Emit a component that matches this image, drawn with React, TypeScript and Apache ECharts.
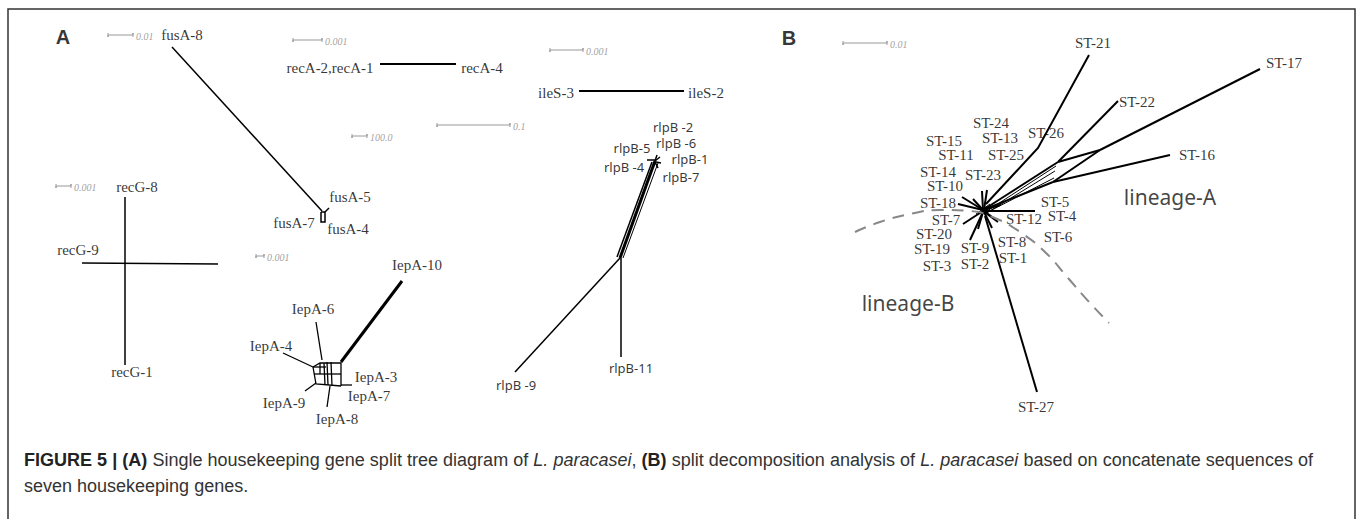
import React, { useEffect, useRef } from "react";
import * as echarts from "echarts";

type Pt = [number, number];
type Lbl = [string, number, number];

// ---------- Panel A: single-gene split trees (node positions) ----------
const fusAEdges: Pt[][] = [
  [[172, 47], [322, 211]],
  [[321, 212], [325, 212], [325, 222], [321, 222], [321, 212]],
  [[325, 212], [329, 208]],
];
const recAEdges: Pt[][] = [[[380, 64], [456, 64]]];
const ileSEdges: Pt[][] = [[[579, 91], [684, 91]]];
const recGEdges: Pt[][] = [
  [[125, 197], [125, 365]],
  [[82, 263], [218, 264]],
];
const lepAThick: Pt[][] = [[[402, 281], [341, 362]]];
const lepAEdges: Pt[][] = [
  [[316, 322], [322, 360]],
  [[283, 353], [313, 367]],
  [[341, 385], [352, 385]],
  [[305, 391], [316, 383]],
  [[327, 407], [330, 386]],
  [[313, 367], [320, 363], [341, 363], [341, 386]],
  [[313, 367], [316, 384], [341, 386]],
  [[313, 367], [326, 367]],
  [[314, 374], [341, 374]],
  [[320, 363], [320, 374]],
  [[324, 363], [325, 385]],
  [[327, 362], [328, 385]],
  [[331, 362], [332, 386]],
];
const rlpBThick: Pt[][] = [[[620, 258], [655, 161]]];
const rlpBEdges: Pt[][] = [
  [[617, 257], [652, 162]],
  [[620, 258], [515, 372]],
  [[621, 258], [621, 357]],
  [[647, 160], [656, 160]],
  [[655, 161], [657, 155]],
  [[655, 161], [660, 157]],
  [[656, 162], [661, 163]],
  [[655, 162], [658, 168]],
];
const rlpBThin: Pt[][] = [[[623, 258], [658, 163]]];

// ---------- Panel B: split decomposition network ----------
const stEdges: Pt[][] = [
  [[986, 204], [1038, 148], [1089, 55]],
  [[983, 210], [1058, 162]],
  [[983, 210], [1053, 182]],
  [[1058, 162], [1100, 150]],
  [[1053, 182], [1100, 150]],
  [[1100, 150], [1260, 69]],
  [[1058, 162], [1118, 101]],
  [[1053, 182], [1170, 155]],
  [[985, 216], [1037, 392]],
  [[985, 211], [1035, 211]],
  [[958, 204], [983, 210]],
  [[962, 197], [983, 210]],
  [[973, 199], [983, 210]],
  [[982, 191], [983, 210]],
  [[987, 190], [984, 210]],
  [[963, 224], [983, 211]],
  [[970, 240], [983, 212]],
  [[978, 229], [983, 212]],
  [[992, 228], [984, 212]],
  [[998, 222], [983, 211]],
  [[1000, 205], [984, 210]],
];
const stThin: Pt[][] = [
  [[984, 213], [1056, 166]],
  [[985, 214], [1055, 171]],
  [[984, 214], [1054, 178]],
  [[975, 205], [992, 216]],
  [[976, 214], [990, 204]],
];
const lineageArc: Pt[] = [
  [855, 232], [880, 222], [910, 214], [940, 210], [970, 211], [995, 218],
  [1020, 232], [1045, 252], [1068, 278], [1090, 303], [1109, 323],
];

// ---------- Scale bars: [x1, x2, y, label] ----------
const scaleBars: [number, number, number, string][] = [
  [108, 133, 35, "0.01"],
  [293, 322, 40, "0.001"],
  [352, 367, 136, "100.0"],
  [437, 510, 125, "0.1"],
  [550, 583, 50, "0.001"],
  [56, 71, 186, "0.001"],
  [256, 264, 256, "0.001"],
  [843, 887, 43, "0.01"],
];

// ---------- Labels: [text, centre x, centre y] ----------
const serifLabelsA: Lbl[] = [
  ["fusA-8", 182, 35], ["recA-2,recA-1", 330, 68], ["recA-4", 482, 68],
  ["ileS-3", 556, 93], ["ileS-2", 706, 93], ["fusA-5", 350, 197],
  ["fusA-7", 294, 223], ["fusA-4", 348, 229], ["recG-8", 137, 187],
  ["recG-9", 78, 250], ["recG-1", 132, 372], ["IepA-10", 417, 265],
  ["IepA-6", 313, 309], ["IepA-4", 271, 346], ["IepA-3", 376, 377],
  ["IepA-7", 369, 396], ["IepA-9", 284, 403], ["IepA-8", 337, 419],
];
const rlpBLabels: Lbl[] = [
  ["rlpB -2", 673, 127], ["rlpB -6", 676, 143], ["rlpB-5", 632, 148],
  ["rlpB-1", 690, 159], ["rlpB -4", 624, 167], ["rlpB-7", 681, 177],
  ["rlpB -9", 516, 385], ["rlpB-11", 631, 368],
];
const stLabels: Lbl[] = [
  ["ST-21", 1093, 43], ["ST-17", 1284, 63], ["ST-22", 1137, 102],
  ["ST-16", 1197, 155], ["ST-26", 1046, 133], ["ST-24", 991, 123],
  ["ST-13", 1000, 138], ["ST-15", 944, 141], ["ST-11", 956, 155],
  ["ST-25", 1006, 155], ["ST-14", 938, 172], ["ST-23", 983, 175],
  ["ST-10", 945, 186], ["ST-18", 938, 203], ["ST-7", 946, 220],
  ["ST-20", 934, 234], ["ST-19", 932, 249], ["ST-3", 937, 266],
  ["ST-9", 975, 248], ["ST-2", 975, 264], ["ST-8", 1012, 242],
  ["ST-1", 1013, 258], ["ST-12", 1024, 219], ["ST-5", 1055, 202],
  ["ST-4", 1062, 216], ["ST-6", 1058, 237], ["ST-27", 1036, 407],
];
const lineageLabels: Lbl[] = [["lineage-A", 1170, 197], ["lineage-B", 908, 303]];
const panelLetters: Lbl[] = [["A", 63, 37], ["B", 789, 38]];

// ---------- Caption ----------
const captionLine1: [string, "b" | "i" | "n"][] = [
  ["FIGURE 5 | (A)", "b"],
  [" Single housekeeping gene split tree diagram of ", "n"],
  ["L. paracasei", "i"],
  [", ", "n"],
  ["(B)", "b"],
  [" split decomposition analysis of ", "n"],
  ["L. paracasei", "i"],
  [" based on concatenate sequences of", "n"],
];
const captionLine2 = "seven housekeeping genes.";

const linesSeries = (edges: Pt[][], width: number, color = "#000") => ({
  type: "lines",
  coordinateSystem: "cartesian2d",
  polyline: true,
  silent: true,
  lineStyle: { color, width, opacity: 1 },
  data: edges.map((c) => ({ coords: c })),
});

const labelSeries = (labels: Lbl[], font: any, align = "center") => ({
  type: "scatter",
  symbol: "circle",
  symbolSize: 1,
  silent: true,
  itemStyle: { color: "rgba(0,0,0,0)" },
  label: {
    show: true,
    position: "inside",
    formatter: "{b}",
    align,
    verticalAlign: "middle",
    ...font,
  },
  data: labels.map(([n, x, y]) => ({ name: n, value: [x, y] })),
});

const CAP_FAMILY = "'Liberation Sans', Arial, sans-serif";
const CAP_SIZE = 18;
const capFont = (s: string) =>
  (s === "b" ? "bold " : s === "i" ? "italic " : "") + CAP_SIZE + "px " + CAP_FAMILY;
const capFill = (s: string) => (s === "b" ? "#222" : "#333");

function justifiedCaption(left: number, right: number, y: number) {
  const ctx = document.createElement("canvas").getContext("2d")!;
  const words: [string, string][][] = [];
  let cur: [string, string][] = [];
  captionLine1.forEach(([txt, st]) => {
    const parts = txt.split(" ");
    parts.forEach((p, i) => {
      if (i > 0) {
        if (cur.length) words.push(cur);
        cur = [];
      }
      if (p) cur.push([p, st]);
    });
  });
  if (cur.length) words.push(cur);
  const widthOf = (w: [string, string][]) =>
    w.reduce((a, [t, s]) => {
      ctx.font = capFont(s);
      return a + ctx.measureText(t).width;
    }, 0);
  const total = words.reduce((a, w) => a + widthOf(w), 0);
  ctx.font = capFont("n");
  const minGap = ctx.measureText(" ").width * 0.8;
  const gap = Math.max(minGap, (right - left - total) / (words.length - 1));
  const els: any[] = [];
  let x = left;
  words.forEach((w) => {
    w.forEach(([t, s]) => {
      ctx.font = capFont(s);
      els.push({
        type: "text",
        x,
        y,
        silent: true,
        style: { text: t, font: capFont(s), fill: capFill(s), verticalAlign: "middle" },
      });
      x += ctx.measureText(t).width;
    });
    x += gap;
  });
  return els;
}

export default function App() {
  const ref = useRef<HTMLDivElement>(null);
  useEffect(() => {
    if (!ref.current) return;
    const chart = echarts.init(ref.current, null, { renderer: "svg" });
    const barEdges: Pt[][] = scaleBars.map(([x1, x2, y]) => [
      [x1, y - 2], [x1, y + 2], [x1, y], [x2, y], [x2, y - 2], [x2, y + 2],
    ]);
    const barLabels: Lbl[] = scaleBars.map(([, x2, y, t]) => [t, x2 + 3, y + 1]);
    const serif = "'Liberation Serif', 'Times New Roman', serif";
    chart.setOption({
      animation: false,
      backgroundColor: "#fff",
      grid: { left: 0, right: 0, top: 0, bottom: 0 },
      xAxis: { type: "value", min: 0, max: 1360, show: false },
      yAxis: { type: "value", min: 0, max: 519, inverse: true, show: false },
      graphic: [
        {
          type: "rect",
          shape: { x: 8, y: 9, width: 1347, height: 530 },
          style: { fill: "none", stroke: "#333", lineWidth: 1.5 },
          silent: true,
        },
        ...justifiedCaption(24, 1313, 460),
        {
          type: "text",
          x: 24,
          y: 486,
          silent: true,
          style: {
            text: captionLine2,
            font: capFont("n"),
            fill: "#333",
            verticalAlign: "middle",
          },
        },
      ],
      series: [
        linesSeries(barEdges, 1, "#999"),
        linesSeries(fusAEdges, 1.5),
        linesSeries(recAEdges, 2),
        linesSeries(ileSEdges, 2),
        linesSeries(recGEdges, 1.5),
        linesSeries(lepAThick, 3),
        linesSeries(lepAEdges, 1.3),
        linesSeries(rlpBThick, 3),
        linesSeries(rlpBEdges, 1.5),
        linesSeries(rlpBThin, 1),
        linesSeries(stEdges, 2),
        linesSeries(stThin, 1),
        {
          type: "line",
          data: lineageArc,
          smooth: true,
          symbol: "none",
          silent: true,
          lineStyle: { color: "#888", width: 2, type: [12, 8] },
        },
        labelSeries(serifLabelsA, { fontFamily: serif, fontSize: 15, color: "#000" }),
        labelSeries(stLabels, { fontFamily: serif, fontSize: 15, color: "#000" }),
        labelSeries(rlpBLabels, { fontFamily: "'Noto Sans', sans-serif", fontSize: 13, color: "#000" }),
        labelSeries(lineageLabels, { fontFamily: "'Noto Sans', sans-serif", fontSize: 21, color: "#111" }),
        labelSeries(panelLetters, { fontFamily: "'Liberation Sans', Arial, sans-serif", fontSize: 20, fontWeight: "bold", color: "#000" }),
        labelSeries(barLabels, { fontFamily: serif, fontSize: 10, fontStyle: "italic", color: "#888" }, "left"),
      ],
    });
    return () => chart.dispose();
  }, []);
  return (
    <div
      ref={ref}
      style={{ position: "absolute", left: 0, top: 0, width: 1360, height: 519 }}
    />
  );
}
